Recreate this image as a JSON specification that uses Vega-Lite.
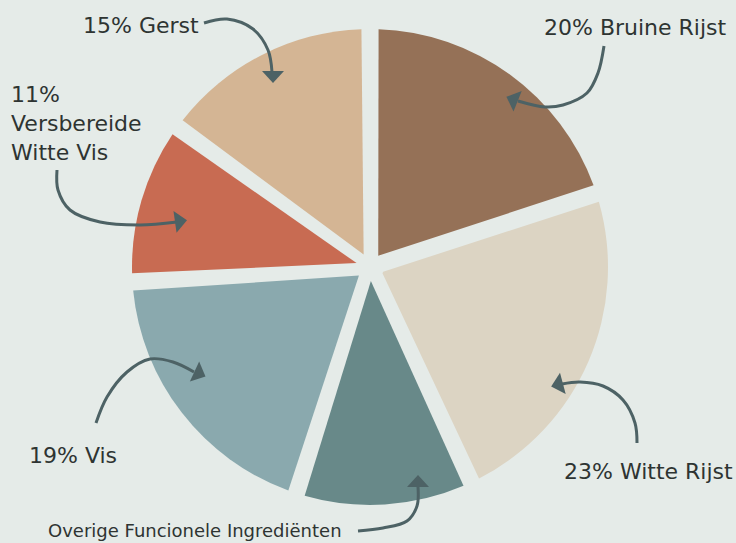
{
  "$schema": "https://vega.github.io/schema/vega-lite/v6.json",
  "width": 736,
  "height": 543,
  "autosize": {"type": "fit", "contains": "padding"},
  "padding": 0,
  "background": "#e5ebe8",
  "config": {"view": {"stroke": null}},
  "datasets": {
    "slices": [
      {"name": "Bruine Rijst", "pct": 20, "order": 1},
      {"name": "Witte Rijst", "pct": 23, "order": 2},
      {"name": "Overige Funcionele Ingrediënten", "pct": 12, "order": 3},
      {"name": "Vis", "pct": 19, "order": 4},
      {"name": "Versbereide Witte Vis", "pct": 11, "order": 5},
      {"name": "Gerst", "pct": 15, "order": 6}
    ],
    "arrows": [
      {"id": "a1", "i": 1, "x": 204, "y": 23}, {"id": "a1", "i": 2, "x": 227, "y": 19}, {"id": "a1", "i": 3, "x": 253, "y": 29}, {"id": "a1", "i": 4, "x": 268, "y": 50}, {"id": "a1", "i": 5, "x": 272, "y": 72},
      {"id": "a2", "i": 1, "x": 604, "y": 46}, {"id": "a2", "i": 2, "x": 598, "y": 73}, {"id": "a2", "i": 3, "x": 587, "y": 93}, {"id": "a2", "i": 4, "x": 563, "y": 105}, {"id": "a2", "i": 5, "x": 545, "y": 107}, {"id": "a2", "i": 6, "x": 518, "y": 101},
      {"id": "a3", "i": 1, "x": 57, "y": 170}, {"id": "a3", "i": 2, "x": 58, "y": 190}, {"id": "a3", "i": 3, "x": 70, "y": 210}, {"id": "a3", "i": 4, "x": 100, "y": 222}, {"id": "a3", "i": 5, "x": 140, "y": 225}, {"id": "a3", "i": 6, "x": 177, "y": 222},
      {"id": "a4", "i": 1, "x": 96, "y": 423}, {"id": "a4", "i": 2, "x": 107, "y": 397}, {"id": "a4", "i": 3, "x": 127, "y": 372}, {"id": "a4", "i": 4, "x": 150, "y": 359}, {"id": "a4", "i": 5, "x": 173, "y": 362}, {"id": "a4", "i": 6, "x": 194, "y": 372},
      {"id": "a5", "i": 1, "x": 637, "y": 443}, {"id": "a5", "i": 2, "x": 635, "y": 423}, {"id": "a5", "i": 3, "x": 623, "y": 400}, {"id": "a5", "i": 4, "x": 603, "y": 386}, {"id": "a5", "i": 5, "x": 580, "y": 382}, {"id": "a5", "i": 6, "x": 562, "y": 384},
      {"id": "a6", "i": 1, "x": 358, "y": 531}, {"id": "a6", "i": 2, "x": 383, "y": 528}, {"id": "a6", "i": 3, "x": 407, "y": 521}, {"id": "a6", "i": 4, "x": 417, "y": 506}, {"id": "a6", "i": 5, "x": 418, "y": 487}
    ],
    "heads": [
      {"id": "a1", "x": 273, "y": 77, "dir": 180},
      {"id": "a2", "x": 512, "y": 99, "dir": 292},
      {"id": "a3", "x": 181, "y": 221, "dir": 82},
      {"id": "a4", "x": 200, "y": 374, "dir": 115},
      {"id": "a5", "x": 557, "y": 385, "dir": 255},
      {"id": "a6", "x": 418, "y": 481, "dir": 0}
    ],
    "labels": [
      {"text": "15% Gerst", "x": 83, "y": 33, "size": "big"},
      {"text": "20% Bruine Rijst", "x": 544, "y": 35, "size": "big"},
      {"text": "11%\nVersbereide\nWitte Vis", "x": 11, "y": 102, "size": "big"},
      {"text": "19% Vis", "x": 29, "y": 463, "size": "big"},
      {"text": "23% Witte Rijst", "x": 564, "y": 479, "size": "big"},
      {"text": "Overige Funcionele Ingrediënten", "x": 48, "y": 537, "size": "small"}
    ]
  },
  "layer": [
    {
      "data": {"name": "slices"},
      "mark": {"type": "arc", "radius": 238, "radius2": 14, "padAngle": 0.072, "stroke": null},
      "encoding": {
        "theta": {"field": "pct", "type": "quantitative", "stack": true},
        "order": {"field": "order", "type": "quantitative"},
        "x": {"datum": 370, "type": "quantitative", "scale": {"domain": [0, 736], "nice": false, "zero": false}, "axis": null},
        "y": {"datum": 267, "type": "quantitative", "scale": {"domain": [543, 0], "nice": false, "zero": false}, "axis": null},
        "color": {
          "field": "name", "type": "nominal", "legend": null,
          "scale": {
            "domain": ["Bruine Rijst", "Witte Rijst", "Overige Funcionele Ingrediënten", "Vis", "Versbereide Witte Vis", "Gerst"],
            "range": ["#957157", "#dcd4c3", "#688989", "#8aa9ae", "#c86b52", "#d4b594"]
          }
        }
      }
    },
    {
      "data": {"name": "arrows"},
      "mark": {"type": "line", "interpolate": "catmull-rom", "strokeWidth": 3, "color": "#4d6265", "strokeCap": "butt"},
      "encoding": {
        "x": {"field": "x", "type": "quantitative", "axis": null},
        "y": {"field": "y", "type": "quantitative", "axis": null},
        "detail": {"field": "id"},
        "order": {"field": "i", "type": "quantitative"}
      }
    },
    {
      "data": {"name": "heads"},
      "mark": {"type": "point", "shape": "M -1 0.55 L 0 -0.55 L 1 0.55 Z", "size": 484, "filled": true, "opacity": 1, "color": "#4d6265"},
      "encoding": {
        "x": {"field": "x", "type": "quantitative", "axis": null},
        "y": {"field": "y", "type": "quantitative", "axis": null},
        "angle": {"field": "dir", "type": "quantitative", "scale": null}
      }
    },
    {
      "data": {"name": "labels"},
      "transform": [{"filter": "datum.size == 'big'"}],
      "mark": {"type": "text", "align": "left", "baseline": "alphabetic", "font": "DejaVu Sans", "fontSize": 22, "color": "#2e3432", "lineBreak": "\n", "lineHeight": 29},
      "encoding": {
        "x": {"field": "x", "type": "quantitative", "axis": null},
        "y": {"field": "y", "type": "quantitative", "axis": null},
        "text": {"field": "text"}
      }
    },
    {
      "data": {"name": "labels"},
      "transform": [{"filter": "datum.size == 'small'"}],
      "mark": {"type": "text", "align": "left", "baseline": "alphabetic", "font": "DejaVu Sans", "fontSize": 18, "color": "#2e3432"},
      "encoding": {
        "x": {"field": "x", "type": "quantitative", "axis": null},
        "y": {"field": "y", "type": "quantitative", "axis": null},
        "text": {"field": "text"}
      }
    }
  ]
}
